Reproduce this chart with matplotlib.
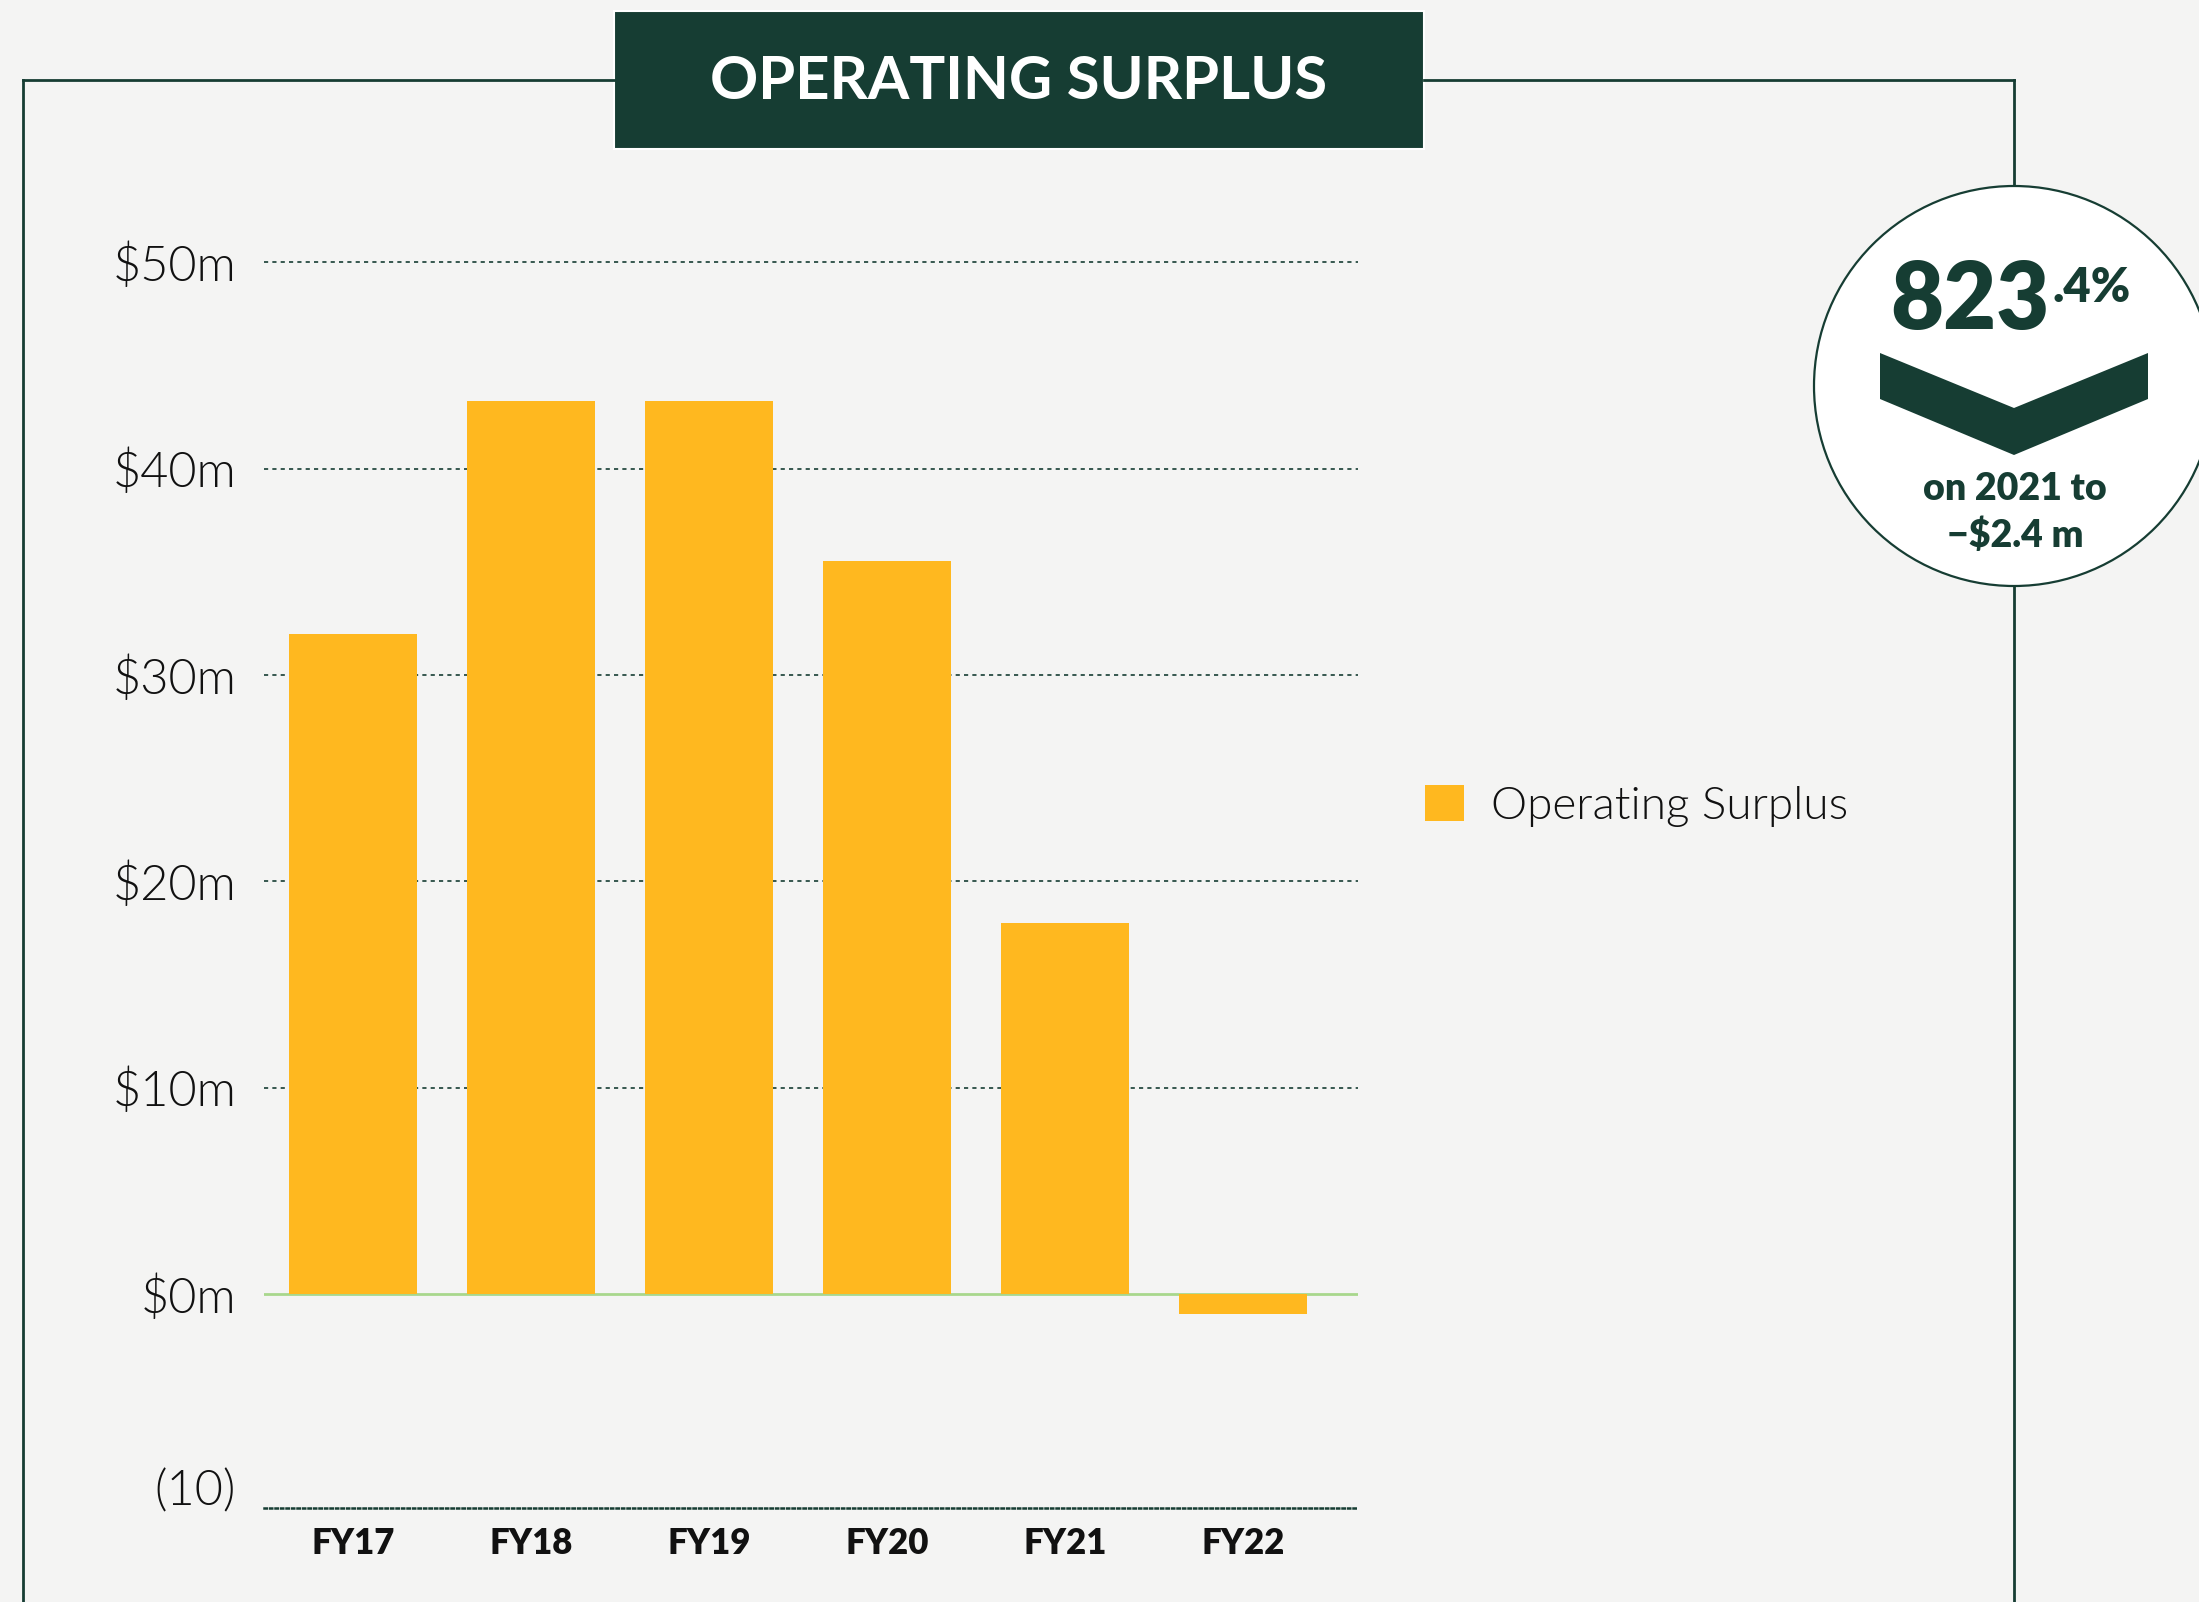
import matplotlib
matplotlib.use("Agg")
import matplotlib.pyplot as plt
import matplotlib.transforms as mtransforms
from matplotlib.patches import Rectangle, Circle, Polygon
from matplotlib.lines import Line2D

# ---- data ----
categories = ["FY17", "FY18", "FY19", "FY20", "FY21", "FY22"]
values = [32.0, 43.3, 43.3, 35.5, 18.0, -0.95]
ytick_vals = [-10, 0, 10, 20, 30, 40, 50]
ytick_labels = ["(10)", "$0m", "$10m", "$20m", "$30m", "$40m", "$50m"]
series_name = "Operating Surplus"
title = "OPERATING SURPLUS"
badge_big = "823"
badge_sup = ".4%"
badge_line1 = "on 2021 to"
badge_line2 = "\u2212$2.4 m"

# ---- style ----
W, H = 2199, 1602
DPI = 100
BG = "#f4f4f3"
GREEN = "#163d33"
BAR = "#ffb81f"
ZERO = "#a8d78c"
LIGHT = ["Lato", "DejaVu Sans"]
BOLD = ["Lato", "DejaVu Sans"]
LIGHT_W = 300

fig = plt.figure(figsize=(W / DPI, H / DPI), dpi=DPI, facecolor=BG)

# overlay in pixel coordinates for frame / title / badge
ov = fig.add_axes([0, 0, 1, 1], zorder=0)
ov.set_xlim(0, W)
ov.set_ylim(H, 0)
ov.axis("off")
ov.patch.set_alpha(0)

lw = 2.0
ov.add_line(Line2D([23, 23], [80, H + 5], color=GREEN, lw=lw))
ov.add_line(Line2D([23, 614], [80, 80], color=GREEN, lw=lw))
ov.add_line(Line2D([1424, 2014], [80, 80], color=GREEN, lw=lw))
ov.add_line(Line2D([2014, 2014], [80, 190], color=GREEN, lw=lw))
ov.add_line(Line2D([2014, 2014], [582, H + 5], color=GREEN, lw=lw))

# title box
ov.add_patch(Rectangle((614, 11), 810, 138, facecolor=GREEN, edgecolor="white", lw=1.5))
ov.text(1019, 82, title, color="white", fontsize=43, fontweight="bold",
        family=BOLD, ha="center", va="center")

# badge
ov.add_patch(Circle((2014, 386), 200, facecolor="white", edgecolor=GREEN, lw=1.6, zorder=3))
ov.add_patch(Polygon([(1880, 353), (2014, 408), (2148, 353), (2148, 399),
                      (2014, 455), (1880, 399)], closed=True, facecolor=GREEN,
                     edgecolor="none", zorder=4))
ov.text(2050, 329, badge_big, color=GREEN, fontsize=66, fontweight="heavy",
        family=BOLD, ha="right", va="baseline", zorder=5)
ov.text(2052, 302, badge_sup, color=GREEN, fontsize=34, fontweight="heavy",
        family=BOLD, ha="left", va="baseline", zorder=5)
ov.text(2015, 489, badge_line1, color=GREEN, fontsize=27, fontweight="heavy",
        family=BOLD, ha="center", va="center", zorder=5)
ov.text(2015, 535, badge_line2, color=GREEN, fontsize=27, fontweight="heavy",
        family=BOLD, ha="center", va="center", zorder=5)

# ---- chart axes ----
ax = fig.add_axes([264 / W, 1 - 1508 / H, 1094 / W, (1508 - 221) / H], zorder=2)
ax.patch.set_alpha(0)
x = list(range(len(categories)))
ax.bar(x, values, width=0.72, color=BAR, label=series_name, zorder=2)
ax.set_xlim(-0.5, 5.646)
ax.set_ylim(-10.37, 52)

for v in ytick_vals:
    if v > 0:
        ax.axhline(v, color=GREEN, lw=1.2, ls=(0, (2.5, 2.5)), zorder=1)
ax.axhline(0, color=ZERO, lw=2.0, zorder=1)

for s in ["top", "right", "left"]:
    ax.spines[s].set_visible(False)
ax.spines["bottom"].set_color(GREEN)
ax.spines["bottom"].set_linewidth(1.8)
ax.spines["bottom"].set_linestyle((0, (0.9, 1.3)))

ax.set_yticks(ytick_vals)
ax.set_yticklabels(ytick_labels)
ax.tick_params(axis="y", length=0, pad=20, labelsize=35, labelcolor="#111111")
for t in ax.get_yticklabels():
    t.set_family(LIGHT)
    t.set_fontweight(LIGHT_W)
# "(10)" sits slightly above its line in the reference
lab10 = ax.get_yticklabels()[0]
lab10.set_transform(lab10.get_transform() +
                    mtransforms.ScaledTranslation(0, 9 / 72, fig.dpi_scale_trans))

ax.set_xticks(x)
ax.set_xticklabels(categories)
ax.tick_params(axis="x", length=0, pad=14, labelsize=25, labelcolor="#111111")
for t in ax.get_xticklabels():
    t.set_family(BOLD)
    t.set_fontweight("heavy")

leg = fig.legend(loc="center left", bbox_to_anchor=(1425 / W, 1 - 806 / H),
                 frameon=False, handlelength=0.85, handleheight=0.85,
                 handletextpad=0.6, borderpad=0, borderaxespad=0,
                 prop={"family": LIGHT, "weight": LIGHT_W, "size": 33})
for t in leg.get_texts():
    t.set_color("#111111")

fig.savefig("out.png", dpi=DPI, facecolor=BG)
